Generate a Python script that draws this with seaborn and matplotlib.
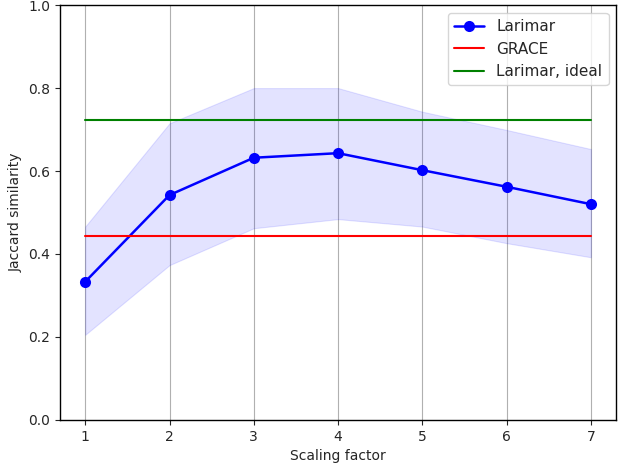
import numpy as np
import pandas as pd
import seaborn as sns
import matplotlib
matplotlib.use('Agg')
import matplotlib.pyplot as plt

scaling = [1, 2, 3, 4, 5, 6, 7]
larimar_mean = [0.333, 0.542, 0.632, 0.643, 0.602, 0.562, 0.520]
larimar_low = [0.205, 0.373, 0.462, 0.484, 0.466, 0.426, 0.392]
larimar_high = [0.466, 0.715, 0.800, 0.800, 0.743, 0.699, 0.653]
grace = [0.443] * 7
ideal = [0.722] * 7

df = pd.DataFrame({'Scaling factor': scaling, 'Larimar': larimar_mean,
                   'GRACE': grace, 'Larimar, ideal': ideal})

sns.set_style('ticks')
plt.rcParams['font.family'] = ['DejaVu Sans']

fig, ax = plt.subplots(figsize=(6.18, 4.68), dpi=100)
sns.lineplot(data=df, x='Scaling factor', y='Larimar', color='b', marker='o',
             markersize=8, markeredgewidth=0, linewidth=1.8, label='Larimar', ax=ax)
ax.fill_between(scaling, larimar_low, larimar_high, color='b', alpha=0.11, linewidth=0.8)
sns.lineplot(data=df, x='Scaling factor', y='GRACE', color='r', linewidth=1.5,
             label='GRACE', ax=ax)
sns.lineplot(data=df, x='Scaling factor', y='Larimar, ideal', color='g', linewidth=1.5,
             label='Larimar, ideal', ax=ax)

ax.set_ylim(0, 1.0)
ax.set_xticks(scaling)
ax.grid(axis='x', color='#b0b0b0', linewidth=0.8)
ax.set_xlabel('Scaling factor')
ax.set_ylabel('Jaccard similarity')
ax.legend(loc='upper right', fontsize=11)
for s in ax.spines.values():
    s.set_color('black')
    s.set_linewidth(1.0)

fig.subplots_adjust(left=0.097, right=0.997, top=0.989, bottom=0.103)
fig.savefig('out.png', dpi=100)
